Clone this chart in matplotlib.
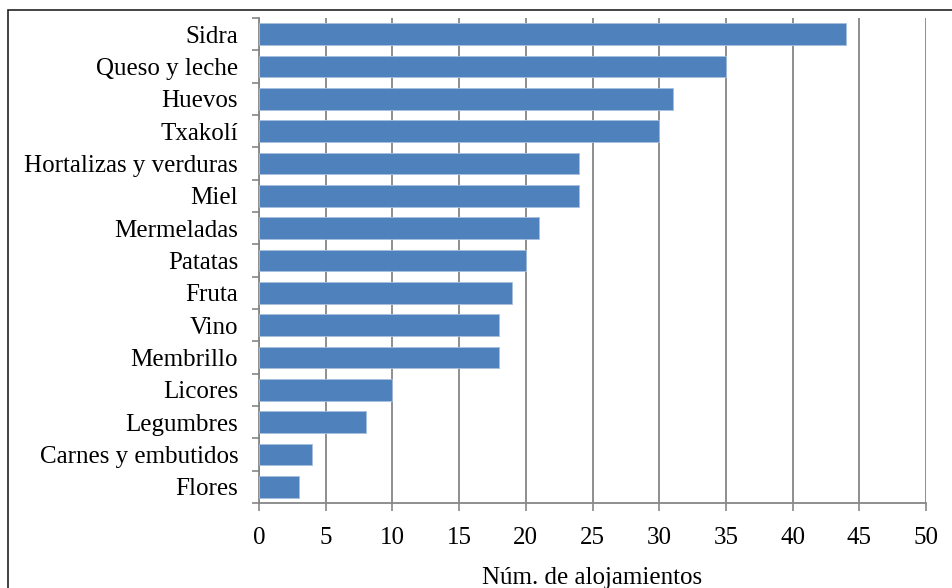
import matplotlib
matplotlib.use("Agg")
import matplotlib.pyplot as plt
from matplotlib.patches import Rectangle
import numpy as np

categories = ["Sidra", "Queso y leche", "Huevos", "Txakolí", "Hortalizas y verduras",
              "Miel", "Mermeladas", "Patatas", "Fruta", "Vino", "Membrillo",
              "Licores", "Legumbres", "Carnes y embutidos", "Flores"]
values = [44, 35, 31, 30, 24, 24, 21, 20, 19, 18, 18, 10, 8, 4, 3]
xticks = [0, 5, 10, 15, 20, 25, 30, 35, 40, 45, 50]
xlabel = "Núm. de alojamientos"

plt.rcParams['font.family'] = ['Liberation Serif', 'DejaVu Serif']

fig = plt.figure(figsize=(9.52, 5.88), dpi=100)
ax = fig.add_axes([259/952, 1-503/588, (926-259)/952, (503-18)/588])

n = len(categories)
y = np.arange(n)
ax.barh(y, values, height=0.66, color='#4F81BD', edgecolor='#A7C0DE', linewidth=0.6, zorder=3)
ax.set_ylim(n - 0.5, -0.5)
ax.set_xlim(0, 50)
ax.set_xticks(xticks)
ax.set_xticklabels([str(t) for t in xticks], fontsize=18)
ax.set_yticks(y)
ax.set_yticklabels(categories, fontsize=18)
ax.set_yticks(np.arange(-0.5, n, 1.0), minor=True)
ax.tick_params(axis='y', which='major', length=0, pad=15)
ax.tick_params(axis='y', which='minor', length=5, width=1.2, color='#868686', direction='out')
ax.tick_params(axis='x', length=6, width=1.2, color='#868686', direction='out', pad=11)
ax.grid(axis='x', color='#868686', linewidth=1.3, zorder=0)
for s in ['top', 'right']:
    ax.spines[s].set_visible(False)
for s in ['left', 'bottom']:
    ax.spines[s].set_color('#868686')
    ax.spines[s].set_linewidth(1.3)
ax.set_xlabel(xlabel, fontsize=18, labelpad=13)

fig.patches.append(Rectangle((8/952, -0.05), 1.1, 1 - 10/588 + 0.05, transform=fig.transFigure,
                             fill=False, edgecolor='#222222', linewidth=1.2))

fig.savefig("out.png", dpi=100)
